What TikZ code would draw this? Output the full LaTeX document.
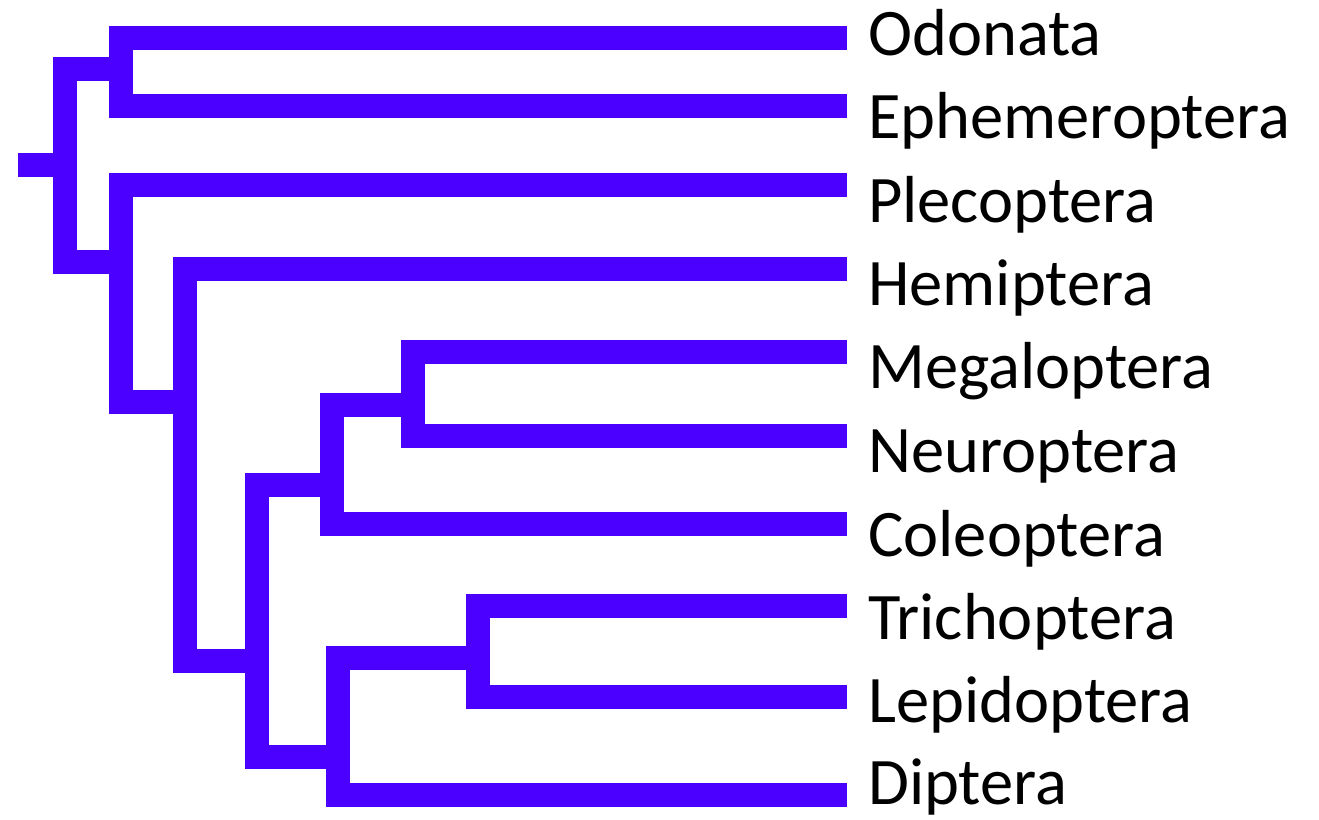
\documentclass[tikz,border=0pt]{standalone}
\usepackage{fontspec}
\setmainfont{Carlito}
\definecolor{branch}{RGB}{75,0,255}
\begin{document}
\begin{tikzpicture}[x=1pt,y=-1pt,
  br/.style={draw=branch,line width=24pt,line cap=butt,line join=miter},
  taxon/.style={anchor=base west,inner sep=0pt,font=\fontsize{66.5}{78}\selectfont,text=black}]
\useasboundingbox (0,0) rectangle (1319,819);
% tips
\coordinate (tO) at (847,38);
\coordinate (tE) at (847,106);
\coordinate (tP) at (847,184.5);
\coordinate (tH) at (847,269);
\coordinate (tMe) at (847,352);
\coordinate (tN) at (847,436);
\coordinate (tC) at (847,524);
\coordinate (tT) at (847,606);
\coordinate (tL) at (847,697);
\coordinate (tD) at (847,795);
% internal nodes
\coordinate (root) at (18,165);
\coordinate (nR) at (64.5,165);
\coordinate (nA) at (121,69);
\coordinate (nB) at (121,262);
\coordinate (nC) at (185,402);
\coordinate (nD) at (257,661);
\coordinate (nE) at (332,485);
\coordinate (nF) at (413,405);
\coordinate (nG) at (338,757);
\coordinate (nH) at (478,658);
% branches
\draw[br] (root) -- (nR);
\draw[br] (nR) |- (nA);
\draw[br] (nR) |- (nB);
\draw[br] (nA) |- (tO);
\draw[br] (nA) |- (tE);
\draw[br] (nB) |- (tP);
\draw[br] (nB) |- (nC);
\draw[br] (nC) |- (tH);
\draw[br] (nC) |- (nD);
\draw[br] (nD) |- (nE);
\draw[br] (nD) |- (nG);
\draw[br] (nE) |- (nF);
\draw[br] (nE) |- (tC);
\draw[br] (nF) |- (tMe);
\draw[br] (nF) |- (tN);
\draw[br] (nG) |- (nH);
\draw[br] (nG) |- (tD);
\draw[br] (nH) |- (tT);
\draw[br] (nH) |- (tL);
% labels
\node[taxon] (lO) at (868,55) {Odonata};
\node[taxon] (lE) at (868,138) {Ephemeroptera};
\node[taxon] (lP) at (868,222) {Plecoptera};
\node[taxon] (lH) at (868,305) {Hemiptera};
\node[taxon] (lMe) at (868,388) {Megaloptera};
\node[taxon] (lN) at (868,472) {Neuroptera};
\node[taxon] (lC) at (868,556) {Coleoptera};
\node[taxon] (lT) at (868,639) {Trichoptera};
\node[taxon] (lL) at (868,722) {Lepidoptera};
\node[taxon] (lD) at (868,804) {Diptera};
\end{tikzpicture}
\end{document}
